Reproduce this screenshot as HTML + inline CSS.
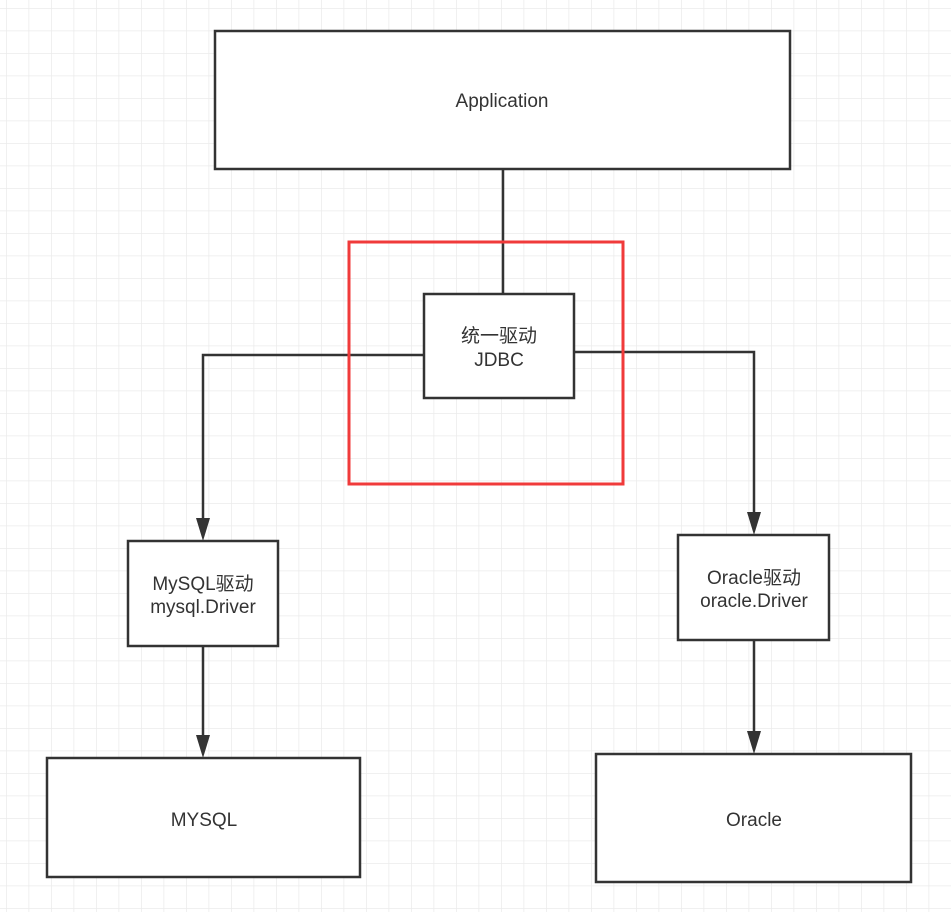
<!DOCTYPE html>
<html><head><meta charset="utf-8"><style>
html,body{margin:0;padding:0;background:#fff}
svg{display:block}
text{font-family:"Liberation Sans","Noto Sans CJK SC",sans-serif;font-size:19px;fill:#333}
</style></head><body>
<svg width="951" height="912" xmlns="http://www.w3.org/2000/svg">
<defs>
<pattern id="g" x="6" y="8" width="22.5" height="22.5" patternUnits="userSpaceOnUse">
<path d="M0 0H22.5M0 0V22.5" stroke="#ebebeb" stroke-width="1.5" fill="none"/>
</pattern>
</defs>
<rect width="951" height="912" fill="url(#g)"/>
<g stroke="#333" stroke-width="2.5" fill="none">
<path d="M503 169V294"/>
<path d="M424 355H203V528"/>
<path d="M574 352H754V522"/>
<path d="M203 646V745"/>
<path d="M754 640V741"/>
</g>
<g fill="#333">
<path d="M196 518L210 518L203 541Z"/>
<path d="M747 512L761 512L754 535Z"/>
<path d="M196 735L210 735L203 758Z"/>
<path d="M747 731L761 731L754 754Z"/>
</g>
<g stroke="#333" stroke-width="2.5" fill="#fff">
<rect x="215" y="31" width="575" height="138"/>
<rect x="424" y="294" width="150" height="104"/>
<rect x="128" y="541" width="150" height="105"/>
<rect x="678" y="535" width="151" height="105"/>
<rect x="47" y="758" width="313" height="119"/>
<rect x="596" y="754" width="315" height="128"/>
</g>
<rect x="349" y="242" width="274" height="242" stroke="#f03a3a" stroke-width="3" fill="none"/>
<g text-anchor="middle">
<text x="502" y="107">Application</text>
<text x="499" y="342">统一驱动</text>
<text x="499" y="366">JDBC</text>
<text x="203" y="590">MySQL驱动</text>
<text x="203" y="613">mysql.Driver</text>
<text x="754" y="584">Oracle驱动</text>
<text x="754" y="607">oracle.Driver</text>
<text x="204" y="826">MYSQL</text>
<text x="754" y="826">Oracle</text>
</g>
</svg>
</body></html>
